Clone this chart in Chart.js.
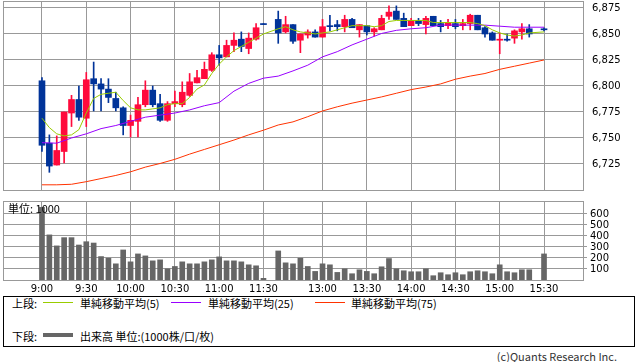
<!DOCTYPE html>
<html>
<head>
<meta charset="utf-8">
<script src="https://cdn.jsdelivr.net/npm/chart.js@4.4.1/dist/chart.umd.min.js"></script>
<style>
  body { margin:0; background:#fff; width:638px; height:362px; overflow:hidden; position:relative;
         font-family:'Noto Sans CJK JP','DejaVu Sans',sans-serif; color:#000; }
  canvas { position:absolute; left:0; }
  #price { top:0; }
  #vol { top:195px; }
  #keys { left:4px; top:297px; }
  .unit { position:absolute; left:8px; top:202px; font-size:11px; line-height:13px; z-index:2; }
  .legend { position:absolute; left:3px; top:296px; width:630px; height:49px; border:1px solid #000; font-size:11px; }
  .legend span { position:absolute; line-height:13px; white-space:nowrap; }
  .copy { position:absolute; right:21px; top:350px; font-size:11px; line-height:13px; color:#333; }
</style>
</head>
<body>
<canvas id="price" width="638" height="192"></canvas>
<canvas id="vol" width="638" height="100"></canvas>
<div class="unit">単位: 1000</div>
<div class="legend">
  <span style="left:8px;top:0px;">上段:</span>
  <span style="left:76px;top:0px;">単純移動平均(5)</span>
  <span style="left:204px;top:0px;">単純移動平均(25)</span>
  <span style="left:347px;top:0px;">単純移動平均(75)</span>
  <span style="left:8px;top:33px;">下段:</span>
  <span style="left:76px;top:33px;">出来高 単位:(1000株/口/枚)</span>
</div>
<canvas id="keys" width="360" height="48"></canvas>
<div class="copy">(c)Quants Research Inc.</div>
<script>
// 5-minute bars, 9:00-11:30 and 12:30-15:30 (15:25 has no trade)
const times = [
  '9:00','9:05','9:10','9:15','9:20','9:25','9:30','9:35','9:40','9:45','9:50','9:55',
  '10:00','10:05','10:10','10:15','10:20','10:25','10:30','10:35','10:40','10:45','10:50','10:55',
  '11:00','11:05','11:10','11:15','11:20','11:25','11:30',
  '12:30','12:35','12:40','12:45','12:50','12:55',
  '13:00','13:05','13:10','13:15','13:20','13:25','13:30','13:35','13:40','13:45','13:50','13:55',
  '14:00','14:05','14:10','14:15','14:20','14:25','14:30','14:35','14:40','14:45','14:50','14:55',
  '15:00','15:05','15:10','15:15','15:20','15:30'
];
const opens = [
  6805,6745,6724,6737,6774,6787,6769,6807,6802,6797,6788,6779,
  6762,6766,6782,6796,6783,6767,6783,6782,6791,6803,6807,6815,
  6830,6828,6839,6845,6836,6845,6860,
  6864,6852,6859,6844,6849,6852,
  6847,6858,6859,6857,6864,6854,6858,6852,6854,6867,6872,6865,
  6858,6863,6859,6867,6860,6858,6860,6858,6860,6868,6856,6851,
  6844,6845,6846,6852,6855,6855
];
const highs = [
  6808,6753,6752,6775,6791,6800,6813,6823,6807,6807,6794,6780,
  6772,6789,6805,6800,6792,6785,6795,6804,6812,6815,6823,6832,
  6839,6844,6851,6852,6851,6860,6860,
  6872,6867,6859,6850,6854,6854,
  6864,6868,6863,6868,6865,6859,6858,6856,6868,6877,6877,6870,
  6865,6865,6867,6867,6863,6864,6864,6864,6869,6868,6857,6852,
  6851,6850,6854,6860,6859,6856
];
const lows = [
  6737,6717,6724,6726,6761,6767,6761,6776,6776,6784,6776,6753,
  6751,6751,6780,6780,6766,6766,6780,6780,6790,6803,6807,6814,
  6820,6828,6833,6833,6831,6844,6859,
  6841,6851,6841,6832,6846,6847,
  6847,6853,6853,6852,6856,6847,6849,6848,6854,6864,6864,6857,
  6858,6858,6850,6858,6852,6855,6855,6854,6854,6854,6847,6844,
  6831,6843,6841,6845,6847,6853
];
const closes = [
  6743,6723,6738,6775,6787,6770,6806,6802,6797,6789,6779,6762,
  6767,6782,6796,6782,6767,6783,6785,6794,6804,6808,6816,6830,
  6827,6839,6844,6838,6846,6856,6859,
  6851,6859,6843,6850,6852,6847,
  6857,6857,6857,6864,6856,6859,6852,6855,6865,6871,6864,6857,
  6863,6860,6865,6858,6857,6861,6857,6860,6868,6854,6850,6844,
  6845,6844,6853,6855,6850,6854
];
const volumes = [
  660,410,310,385,385,318,348,336,213,198,147,273,
  165,237,219,174,183,102,123,165,147,147,165,183,
  210,174,174,165,138,129,15,
  264,156,147,198,123,78,
  147,138,69,102,57,93,78,57,120,195,102,84,
  75,75,102,39,66,48,66,48,75,84,75,57,
  138,75,66,93,93,237
];
const ma5 = [
  6769,6760,6754,6752,6753,6758,6774,6788,6792,6793,6794,6786,
  6779,6777,6777,6778,6779,6782,6783,6783,6789,6797,6801,6812,
  6821,6828,6834,6838,6842,6846,6850,
  6855,6857,6854,6852,6851,6850,
  6851,6852,6854,6856,6858,6858,6858,6857,6858,6862,6863,6863,
  6863,6863,6863,6861,6861,6861,6861,6861,6861,6860,6858,6854,
  6851,6849,6848,6849,6851,6852
];
// longer averages read every 10 minutes
const maTimes = [
  '9:00','9:10','9:20','9:30','9:40','9:50','10:00','10:10','10:20','10:30','10:40','10:50',
  '11:00','11:10','11:20','11:30',
  '12:30','12:40','12:50','13:00','13:10','13:20','13:30','13:40','13:50','14:00','14:10','14:20',
  '14:30','14:40','14:50','15:00','15:10','15:20','15:30'
];
const ma25 = [
  6745.5,6745,6750,6754,6759,6762,6766,6770,6772,6774,6777,6781,
  6784,6795,6802.5,6807.5,
  6809.5,6814.5,6820,6828,6833,6839.5,6845,6850.5,6853.5,6855,6856,6858.5,
  6858.5,6858.5,6858.5,6857.5,6856.5,6856.5,6856.5
];
const ma75 = [
  6705,6705,6705.5,6708,6711,6714,6717.5,6722,6725.5,6729.5,6734.5,6739,
  6743.5,6748,6753,6757.5,
  6762.5,6765.5,6770.5,6776,6780,6783.5,6786.5,6789.5,6793,6796.5,6799,6802,
  6806.5,6809.5,6812,6816,6819,6822,6825
];
const tickLabels = ['9:00','9:30','10:00','10:30','11:00','11:30','13:00','13:30','14:00','14:30','15:00','15:30'];

const upColor = '#ff0a3c';
const downColor = '#003399';
const gridColor = '#999999';
const ma5Color = '#99cc00', ma25Color = '#9900ff', ma75Color = '#ff3300', volColor = '#666666';
const xMin = -5.28, xMax = 73.28;

// slot index on the x axis: lunch break squeezed to one empty slot
function slotOf(t) {
  const [h, m] = t.split(':').map(Number);
  let i = ((h - 9) * 60 + m) / 5;
  if (h >= 12) i -= 10;
  return i;
}
const labelAt = {};
tickLabels.forEach(t => { labelAt[slotOf(t)] = t; });

Chart.defaults.font.family = "'DejaVu Sans', sans-serif";
Chart.defaults.font.size = 10;
Chart.defaults.color = '#000';

const frame = {
  id: 'frame',
  beforeDatasetsDraw(chart) {
    const { ctx, chartArea: a } = chart;
    ctx.save();
    ctx.strokeStyle = gridColor;
    ctx.lineWidth = 1;
    ctx.strokeRect(Math.round(a.left) + 0.5, Math.round(a.top) + 0.5, Math.round(a.right - a.left), Math.round(a.bottom - a.top));
    ctx.restore();
  }
};

function timeAxis(showLabels) {
  return {
    type: 'linear', min: xMin, max: xMax, offset: false,
    grid: { color: gridColor, offset: false, drawTicks: false },
    border: { display: false },
    ticks: { display: showLabels, autoSkip: false, maxRotation: 0, padding: 3,
             callback: v => labelAt[v] || '' },
    afterBuildTicks: s => { s.ticks = tickLabels.map(t => ({ value: slotOf(t) })); },
    afterFit: s => { s.height = showLabels ? 15 : 0; s.paddingLeft = 0; s.paddingRight = 0; }
  };
}

const candleColors = times.map((t, i) => closes[i] >= opens[i] ? upColor : downColor);
const bodies = times.map((t, i) => ({ x: slotOf(t), y: [opens[i], closes[i]] }));
const wicks = times.map((t, i) => ({ x: slotOf(t), y: [lows[i], highs[i]] }));
const line = (ts, vals) => ts.map((t, i) => ({ x: slotOf(t), y: vals[i] }));

new Chart(document.getElementById('price'), {
  type: 'bar',
  data: {
    datasets: [
      { type: 'line', data: line(times, ma5), borderColor: ma5Color, borderWidth: 1, pointRadius: 0, order: 0 },
      { type: 'line', data: line(maTimes, ma25), borderColor: ma25Color, borderWidth: 1, pointRadius: 0, order: 0 },
      { type: 'line', data: line(maTimes, ma75), borderColor: ma75Color, borderWidth: 1, pointRadius: 0, order: 0 },
      { data: bodies, backgroundColor: candleColors, barThickness: 6, minBarLength: 1, grouped: false, order: 1 },
      { data: wicks, backgroundColor: candleColors, barThickness: 1, grouped: false, order: 2 }
    ]
  },
  options: {
    responsive: false, animation: false, devicePixelRatio: 1,
    layout: { padding: { left: 3, top: 1, right: 0, bottom: 2 } },
    plugins: { legend: { display: false }, tooltip: { enabled: false } },
    scales: {
      x: timeAxis(false),
      y: {
        position: 'right', min: 6700, max: 6881.7,
        grid: { color: gridColor, drawTicks: false },
        border: { display: false },
        ticks: { stepSize: 25, includeBounds: false, padding: 9, callback: v => v.toLocaleString('en-US') },
        afterBuildTicks: s => { s.ticks = s.ticks.filter(t => t.value > 6700); },
        afterFit: s => { s.width = 55; s.paddingTop = 0; s.paddingBottom = 0; }
      }
    }
  },
  plugins: [frame]
});

new Chart(document.getElementById('vol'), {
  type: 'bar',
  data: {
    datasets: [
      { data: times.map((t, i) => ({ x: slotOf(t), y: volumes[i] })), backgroundColor: volColor, barThickness: 5, grouped: false }
    ]
  },
  options: {
    responsive: false, animation: false, devicePixelRatio: 1,
    layout: { padding: { left: 3, top: 6, right: 0, bottom: 0 } },
    plugins: { legend: { display: false }, tooltip: { enabled: false } },
    scales: {
      x: timeAxis(true),
      y: {
        position: 'right', min: 0, max: 718,
        grid: { color: gridColor, drawTicks: true, tickLength: 4 },
        border: { display: false },
        ticks: { stepSize: 100, includeBounds: false, padding: 3 },
        afterBuildTicks: s => { s.ticks = s.ticks.filter(t => t.value > 0 && t.value <= 600); },
        afterFit: s => { s.width = 55; s.paddingTop = 0; s.paddingBottom = 0; }
      }
    }
  },
  plugins: [frame]
});

// legend keys
const kc = document.getElementById('keys').getContext('2d');
[[39, ma5Color], [167, ma25Color], [311, ma75Color]].forEach(([x, c]) => {
  kc.fillStyle = c;
  kc.fillRect(x, 5, 30, 1);
});
kc.fillStyle = volColor;
kc.fillRect(39, 36, 30, 4);
</script>
</body>
</html>
